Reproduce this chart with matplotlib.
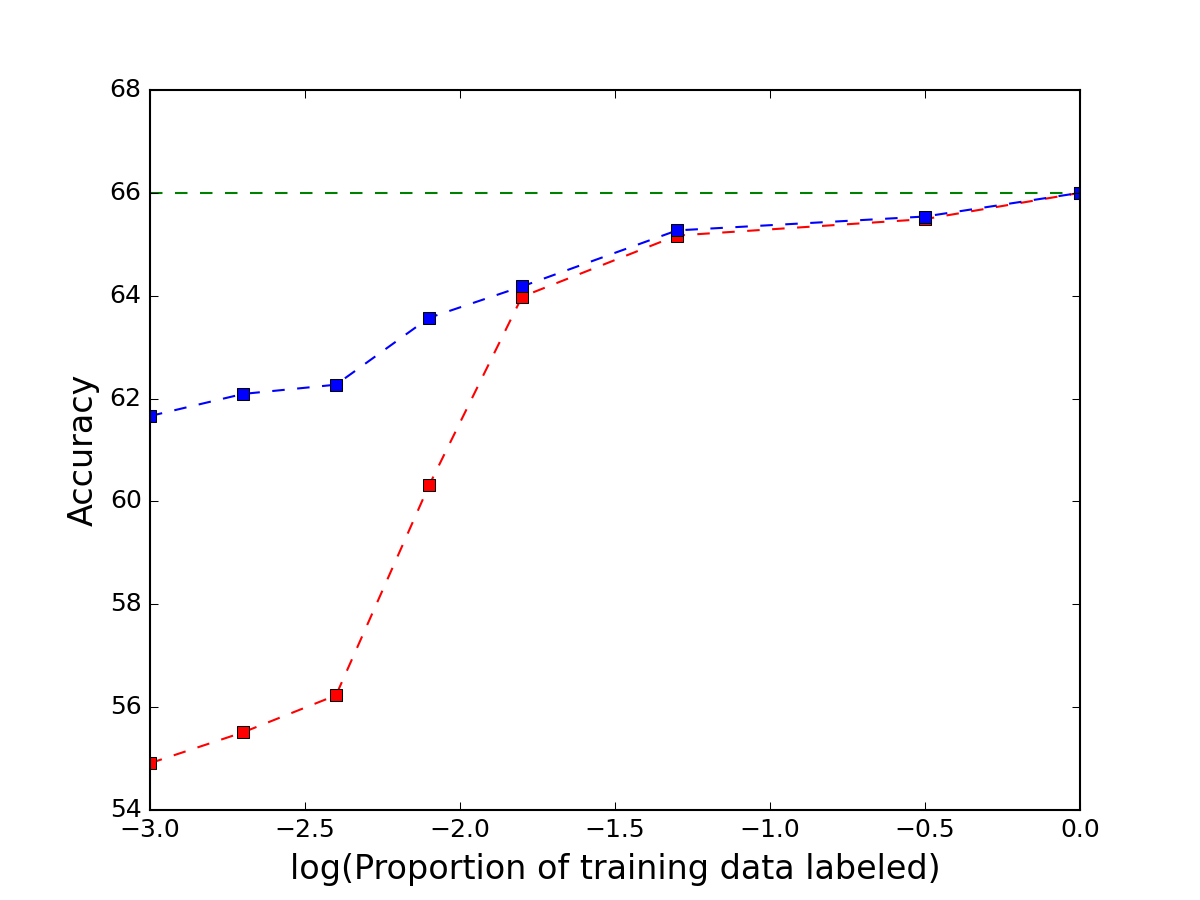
import matplotlib
matplotlib.use('Agg')
import matplotlib.pyplot as plt

plt.style.use('classic')

# log10 of proportion of labeled training data
log_prop = [-3.0, -2.7, -2.4, -2.1, -1.8, -1.3, -0.5, 0.0]
acc_red = [54.91, 55.51, 56.23, 60.31, 63.98, 65.17, 65.49, 66.0]
acc_blue = [61.66, 62.09, 62.27, 63.57, 64.18, 65.27, 65.54, 66.0]
full_acc = 66.0

fig, ax = plt.subplots(figsize=(8, 6))

ax.axhline(full_acc, color='g', linestyle='--')
ax.plot(log_prop, acc_red, 'rs--')
ax.plot(log_prop, acc_blue, 'bs--')

ax.set_xlim(-3.0, 0.0)
ax.set_ylim(54, 68)
ax.set_xlabel("log(Proportion of training data labeled)", fontsize=16)
ax.set_ylabel("Accuracy", fontsize=16)

plt.savefig("out.png", dpi=150)
plt.close()
